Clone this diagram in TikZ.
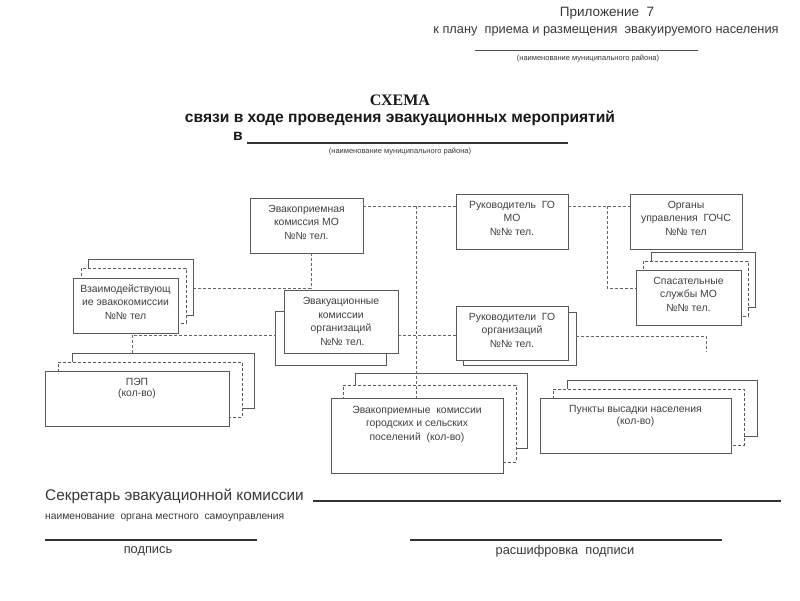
\documentclass[tikz,border=0pt]{standalone}
\usepackage{fontspec}
\setmainfont{Liberation Sans}
\newfontfamily\serifb{Liberation Serif}
\usetikzlibrary{fit}
\newcommand\boxn[6][]{\node[inner sep=0pt, outer sep=0pt, fit={(#3,#4) (#5,#6)}, fill=white, draw=black!65, line width=0.8pt, #1] (#2) {};}
\newcommand\wsp{\hspace{0.55em}}
\begin{document}
\begin{tikzpicture}[x=1pt,y=-1pt,
  dline/.style={draw=black!60, line width=0.8pt, dash pattern=on 3pt off 2pt},
  dbox/.style={dash pattern=on 3pt off 2pt},
  bxt/.style={text=black!75, font=\fontsize{10.4}{13.5}\selectfont, align=center, anchor=north, inner sep=0pt},
  txt/.style={text=black!78, inner sep=0pt},
  rule/.style={draw=black!80, line width=1.1pt},
]
\useasboundingbox[fill=white] (0,0) rectangle (800,600);

% header
\node[txt, font=\fontsize{13.5}{15}\selectfont] (h1) at (607,13) {Приложение\wsp 7};
\node[txt, font=\fontsize{12.8}{15}\selectfont] (h2) at (606,31) {к плану\wsp приема и размещения\wsp эвакуируемого населения};
\draw[draw=black!70, line width=0.8pt] (475,50) -- (698,50);
\node[txt, font=\fontsize{7.5}{9}\selectfont] (h3) at (588,58) {(наименование муниципального района)};

% title
\node[txt, text=black!90, font=\fontsize{16}{18}\selectfont\serifb\bfseries] (t1) at (400,100) {СХЕМА};
\node[txt, text=black!90, font=\fontsize{15.6}{18}\selectfont\bfseries] (t2) at (400,118) {связи в ходе проведения эвакуационных мероприятий};
\node[txt, text=black!90, font=\fontsize{15.6}{18}\selectfont\bfseries] (t3) at (238,136) {в};
\draw[rule] (247,143) -- (568,143);
\node[txt, font=\fontsize{7.5}{9}\selectfont] (t4) at (400,151) {(наименование муниципального района)};

% single boxes
\boxn{ek}{250}{198}{363}{253}
\boxn{rg}{456}{194}{568}{249}
\boxn{og}{630}{194}{742}{249}

% stacks
\boxn{vzb}{88}{259}{193}{315}
\boxn[dbox]{vzd}{81}{268}{186}{323}
\boxn{vz}{73}{278}{178}{333}

\boxn{spb}{651}{252}{755}{307}
\boxn[dbox]{spd}{643}{261}{748}{316}
\boxn{sp}{636}{270}{741}{325}

\boxn{eob}{275}{311}{386}{365}
\boxn{eo}{284}{290}{398}{353}

\boxn{rgob}{463}{312}{576}{365}
\boxn{rgo}{456}{306}{568}{360}

\boxn{pepb}{72}{353}{254}{408}
\boxn[dbox]{pepd}{58}{362}{242}{417}
\boxn{pep}{45}{371}{229}{426}

\boxn{egb}{355}{373}{527}{448}
\boxn[dbox]{egd}{343}{385}{516}{462}
\boxn{eg}{331}{398}{503}{473}

\boxn{pvb}{567}{380}{757}{436}
\boxn[dbox]{pvd}{553}{389}{744}{445}
\boxn{pv}{540}{398}{731}{453}

% box texts
\node[bxt] (ek-t) at ([yshift=-7pt]ek.north) {Эвакоприемная\\комиссия МО\\№№ тел.};
\node[bxt] (rg-t) at ([yshift=-7pt]rg.north) {Руководитель\wsp ГО\\МО\\№№ тел.};
\node[bxt] (og-t) at ([yshift=-7pt]og.north) {Органы\\управления\wsp ГОЧС\\№№ тел};
\node[bxt] (vz-t) at ([yshift=-6.5pt]vz.north) {Взаимодействующ\\ие эвакокомиссии\\№№ тел};
\node[bxt] (eo-t) at ([yshift=-7.5pt]eo.north) {Эвакуационные\\комиссии\\организаций\\\ №№ тел.};
\node[bxt] (sp-t) at ([yshift=-7pt]sp.north) {Спасательные\\службы МО\\№№ тел.};
\node[bxt] (rgo-t) at ([yshift=-7pt]rgo.north) {Руководители\wsp ГО\\организаций\\№№ тел.};
\node[bxt, font=\fontsize{10.4}{11.5}\selectfont] (pep-t) at ([yshift=-7pt]pep.north) {ПЭП\\(кол-во)};
\node[bxt] (eg-t) at ([yshift=-8pt]eg.north) {Эвакоприемные\wsp комиссии\\городских и сельских\\поселений\wsp (кол-во)};
\node[bxt, font=\fontsize{10.4}{12}\selectfont] (pv-t) at ([yshift=-7pt]pv.north) {Пункты высадки населения\\(кол-во)};

% connectors
\coordinate (c206) at (416,206);
\coordinate (j288) at (311,288);
\coordinate (j335) at (132,335);
\coordinate (r206) at (607,206);
\coordinate (r288) at (607,288);
\coordinate (k336) at (706,336);
\coordinate (e352) at (706,352);

\draw[dline] (ek.east |- c206) -- (rg.west |- c206);
\draw[dline] (c206) -- (c206 |- eg.north);
\draw[dline] (j288 |- ek.south) -- (j288) -- (vzb.east |- j288);
\draw[dline] (j335 |- pepb.north) -- (j335) -- (eob.west |- j335);
\draw[dline] (eo.east |- j335) -- (rgo.west |- j335);
\draw[dline] (rg.east |- r206) -- (og.west |- r206);
\draw[dline] (r206) -- (r288) -- (sp.west |- r288);
\draw[dline] (rgob.east |- k336) -- (k336) -- (e352);

% bottom
\node[txt, anchor=west, font=\fontsize{15.4}{17}\selectfont] (s1) at (45,496) {Секретарь эвакуационной комиссии};
\draw[rule] (313,501) -- (781,501);
\node[txt, anchor=west, font=\fontsize{10.3}{12}\selectfont] (s2) at (45,518) {наименование\wsp органа местного\wsp самоуправления};
\draw[rule] (45,540) -- (257,540);
\draw[rule] (410,540) -- (722,540);
\node[txt, font=\fontsize{12.8}{15}\selectfont] (s3) at (148,551) {подпись};
\node[txt, font=\fontsize{12.8}{15}\selectfont] (s4) at (565,551) {расшифровка\wsp подписи};
\end{tikzpicture}
\end{document}
